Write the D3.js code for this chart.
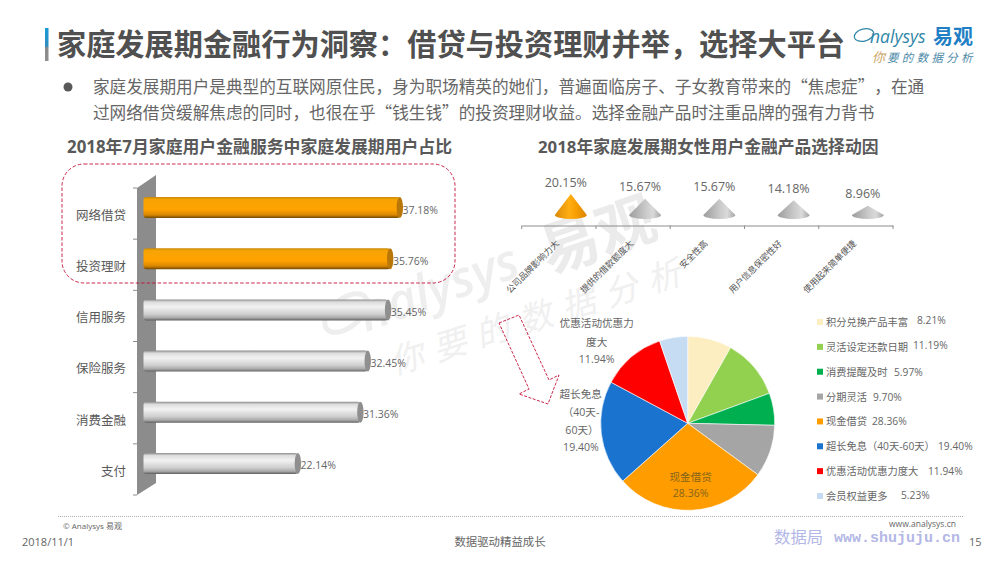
<!DOCTYPE html>
<html>
<head>
<meta charset="utf-8">
<script src="https://cdn.jsdelivr.net/npm/d3@7"></script>
<style>
  html, body { margin: 0; padding: 0; background: #fff; }
  svg { display: block; }
  text { font-family: "Open Sans", "Noto Sans CJK SC", sans-serif; }
  text.cjk { font-family: "Noto Sans CJK SC", sans-serif; }
  text.body-line { text-spacing-trim: space-all; font-kerning: none; }
</style>
</head>
<body>
<svg id="chart" width="1000" height="563"></svg>
<script>
// данные
const barCategories = ["网络借贷", "投资理财", "信用服务", "保险服务", "消费金融", "支付"];
const barValues = [37.18, 35.76, 35.45, 32.45, 31.36, 22.14];
const barHighlighted = ["网络借贷", "投资理财"];

const coneCategories = ["公司品牌影响力大", "提供的借款额度大", "安全性高", "用户信息保密性好", "使用起来简单便捷"];
const coneValues = [20.15, 15.67, 15.67, 14.18, 8.96];

const pieCategories = ["积分兑换产品丰富", "灵活设定还款日期", "消费提醒及时", "分期灵活", "现金借贷", "超长免息（40天-60天）", "优惠活动优惠力度大", "会员权益更多"];
const pieValues = [8.21, 11.19, 5.97, 9.70, 28.36, 19.40, 11.94, 5.23];
const pieColors = ["#fdeec2", "#92d050", "#00b050", "#a5a5a5", "#ff9c00", "#1a73cf", "#ff0000", "#c6dcf3"];

const legendPctX = [917, 913, 894, 873, 872, 938, 928, 901];
const legendPctDy = [-2, -2, 0, 0, 0, 0, 0, -1];

const bodyLines = [
    "家庭发展期用户是典型的互联网原住民，身为职场精英的她们，普遍面临房子、子女教育带来的“焦虑症”，在通",
    "过网络借贷缓解焦虑的同时，也很在乎“钱生钱”的投资理财收益。选择金融产品时注重品牌的强有力背书"
];

const grey = "#595959";
const svg = d3.select("#chart");
const defs = svg.append("defs");

function addGradient(id, stops, horizontal) {
    const g = defs.append("linearGradient").attr("id", id)
        .attr("x1", 0).attr("y1", 0)
        .attr("x2", horizontal ? 1 : 0).attr("y2", horizontal ? 0 : 1);
    stops.forEach(s => g.append("stop").attr("offset", s[0]).attr("stop-color", s[1]));
}
addGradient("barOrange", [[0, "#c98a08"], [0.12, "#f7a404"], [0.6, "#ffa200"], [0.85, "#d98600"], [1, "#6e4700"]]);
addGradient("barGrey", [[0, "#8a8a8a"], [0.12, "#dcdcdc"], [0.35, "#f2f2f2"], [0.7, "#cfcfcf"], [0.88, "#a8a8a8"], [1, "#5f5f5f"]]);
addGradient("coneOrange", [[0, "#d98a08"], [0.45, "#ffae12"], [0.7, "#f59c00"], [1, "#d98400"]], true);
addGradient("coneGrey", [[0, "#9c9c9c"], [0.5, "#c8c8c8"], [0.75, "#dadada"], [1, "#a4a4a4"]], true);
addGradient("titleBar", [[0, "#1a9ad6"], [0.55, "#2f8dc0"], [0.6, "#8a8a8a"], [1, "#8f8f8f"]]);

// водяной знак
svg.append("ellipse").attr("cx", 346).attr("cy", 313).attr("rx", 25).attr("ry", 14)
    .attr("transform", "rotate(-40 346 313)")
    .attr("fill", "none").attr("stroke", "#eeeeee").attr("stroke-width", 5);
svg.append("text").attr("transform", "translate(366,332) rotate(-20)")
    .attr("font-size", 50).attr("font-style", "italic").attr("font-weight", 600).attr("fill", "#eeeeee").text("nalysys");
svg.append("text").attr("class", "cjk").attr("transform", "translate(549,274) rotate(-19)")
    .attr("font-size", 59).attr("font-weight", 700).attr("fill", "#ebebeb").text("易观");
svg.append("text").attr("class", "cjk").attr("transform", "translate(394,375) rotate(-17.6)")
    .attr("font-size", 34).attr("font-style", "italic").attr("letter-spacing", 11).attr("fill", "#f0f0f0")
    .text("你要的数据分析");

// заголовок
svg.append("rect").attr("x", 45).attr("y", 28).attr("width", 3.5).attr("height", 33).attr("fill", "url(#titleBar)");
svg.append("text").attr("class", "cjk").attr("x", 57).attr("y", 55).attr("font-size", 29.2).attr("font-weight", 700).attr("fill", "#505050")
    .text("家庭发展期金融行为洞察：借贷与投资理财并举，选择大平台");

// логотип
svg.append("ellipse").attr("cx", 864).attr("cy", 35).attr("rx", 10).attr("ry", 6)
    .attr("fill", "none").attr("stroke", "#2f86a8").attr("stroke-width", 1.2)
    .attr("transform", "rotate(-15 864 35)");
svg.append("text").attr("x", 870).attr("y", 43).attr("font-size", 17.5).attr("font-style", "italic").attr("fill", "#2f86a8").text("nalysys");
svg.append("text").attr("class", "cjk").attr("x", 933).attr("y", 43.5).attr("font-size", 20).attr("font-weight", 700).attr("fill", "#1f7fc4").text("易观");
svg.append("text").attr("class", "cjk").attr("x", 872).attr("y", 62).attr("font-size", 13).attr("font-style", "italic").attr("fill", "#c9a25e").text("你");
svg.append("text").attr("class", "cjk").attr("x", 887).attr("y", 62).attr("font-size", 11.5).attr("font-style", "italic").attr("letter-spacing", 3.3).attr("fill", "#4d8aa8").text("要的数据分析");

// текст
svg.append("circle").attr("cx", 68).attr("cy", 87).attr("r", 4.5).attr("fill", grey);
svg.selectAll(".body-line").data(bodyLines).enter().append("text")
    .attr("class", "body-line cjk")
    .attr("x", 93).attr("y", (d, i) => 93 + i * 26)
    .attr("font-size", 16.64).attr("fill", "#666").text(d => d);

svg.append("text").attr("x", 67).attr("y", 153).attr("font-size", 16.85).attr("font-weight", 700).attr("fill", grey)
    .text("2018年7月家庭用户金融服务中家庭发展期用户占比");
svg.append("text").attr("x", 538).attr("y", 153).attr("font-size", 16.8).attr("font-weight", 700).attr("fill", grey)
    .text("2018年家庭发展期女性用户金融产品选择动因");

// столбцы
const barX = d3.scaleLinear().domain([0, 37.18]).range([151, 403]);
const barY = d3.scaleBand().domain(barCategories).range([188, 495]);
const barStart = 143.5, barH = 21, barLift = 6;

svg.append("polygon").attr("points", "137,188 156,175 156,483 137,495").attr("fill", "#8c8c8c");
barCategories.concat([null]).forEach((c, i) => {
    const y = 188 + i * barY.step();
    svg.append("line").attr("x1", 133).attr("x2", 137).attr("y1", y).attr("y2", y).attr("stroke", "#8c8c8c");
});

const yAxis = svg.append("g").attr("transform", "translate(127,0)").call(d3.axisLeft(barY).tickSize(0).tickPadding(1));
yAxis.select(".domain").remove();
yAxis.selectAll("text").attr("font-size", 12.5).attr("fill", grey)
    .style("font-family", '"Noto Sans CJK SC", sans-serif').attr("dy", "0.5em");

const isHot = d => barHighlighted.includes(d);
const bars = svg.selectAll(".bar").data(barCategories).enter().append("g").attr("class", "bar")
    .attr("transform", d => `translate(0,${barY(d) + barY.bandwidth() / 2 - barLift - barH / 2})`);
bars.append("rect")
    .attr("x", barStart).attr("y", 0).attr("rx", 3).attr("ry", 3)
    .attr("width", (d, i) => barX(barValues[i]) - barStart - 3).attr("height", barH)
    .attr("fill", d => isHot(d) ? "url(#barOrange)" : "url(#barGrey)");
bars.append("ellipse")
    .attr("cx", (d, i) => barX(barValues[i]) - 3.2).attr("cy", barH / 2)
    .attr("rx", 3.2).attr("ry", barH / 2)
    .attr("fill", d => isHot(d) ? "#b9770a" : "#8f8f8f");
bars.append("text")
    .attr("x", (d, i) => barX(barValues[i]) - 0.5).attr("y", barH / 2 + 6)
    .attr("font-size", 10.5).attr("fill", "#666")
    .text((d, i) => barValues[i].toFixed(2) + "%");

// рамка и стрелка
svg.append("rect").attr("x", 62).attr("y", 164).attr("width", 393).attr("height", 119).attr("rx", 22)
    .attr("fill", "none").attr("stroke", "#c4103a").attr("stroke-width", 0.9).attr("stroke-dasharray", "3.5,2");
svg.append("polygon").attr("points", "499,323 519,315 549,380 559,375 548,404 519,394 529,389")
    .attr("fill", "none").attr("stroke", "#c4103a").attr("stroke-width", 0.9).attr("stroke-dasharray", "3,1.5");

// конусы
const coneX = d3.scaleBand().domain(coneCategories).range([521.7, 893]);
const coneY = d3.scaleLinear().domain([0, 20.15]).range([215, 194]);
const coneShift = 12, coneHalf = 16, coneRy = 4;

const xAxis = svg.append("g").attr("transform", "translate(0,225.5)").call(d3.axisBottom(coneX).tickSize(0));
xAxis.select(".domain").attr("stroke", "#8c8c8c");
xAxis.selectAll("text")
    .style("text-anchor", "end")
    .style("font-family", '"Noto Sans CJK SC", sans-serif')
    .attr("font-size", 8.8).attr("fill", "#555")
    .attr("dx", "0.2em").attr("dy", "0.3em")
    .attr("transform", "translate(-4.4,15.8) rotate(-45)");
coneCategories.concat([null]).forEach((c, i) => {
    const x = 521.7 + i * coneX.step();
    svg.append("line").attr("x1", x).attr("x2", x).attr("y1", 225.5).attr("y2", 229).attr("stroke", "#8c8c8c");
});

const cones = svg.selectAll(".cone").data(coneCategories).enter().append("g").attr("class", "cone");
cones.append("path")
    .attr("d", (d, i) => {
        const cx = coneX(d) + coneX.bandwidth() / 2 + coneShift;
        return `M${cx - coneHalf},${coneY(0)} L${cx},${coneY(coneValues[i])} L${cx + coneHalf},${coneY(0)} A${coneHalf},${coneRy} 0 0 1 ${cx - coneHalf},${coneY(0)} Z`;
    })
    .attr("fill", (d, i) => i === 0 ? "url(#coneOrange)" : "url(#coneGrey)");
cones.append("text")
    .attr("x", d => coneX(d) + coneX.bandwidth() / 2 + coneShift - 5)
    .attr("y", (d, i) => coneY(coneValues[i]) - 7.5)
    .attr("text-anchor", "middle").attr("font-size", 12.5).attr("fill", "#666")
    .text((d, i) => coneValues[i].toFixed(2) + "%");

// круговая диаграмма
const pie = d3.pie().sort(null)(pieValues);
const arc = d3.arc().innerRadius(0).outerRadius(87);
svg.append("g").attr("transform", "translate(687.7,423.3)")
    .selectAll("path").data(pie).enter().append("path")
    .attr("d", arc)
    .attr("fill", (d, i) => pieColors[i])
    .attr("stroke", "#fff").attr("stroke-width", 0.6);

function pieLabel(lines, fill) {
    lines.forEach(l => svg.append("text")
        .attr("x", l[1]).attr("y", l[2] + 4).attr("text-anchor", "middle")
        .attr("font-size", 10.6).attr("fill", fill).text(l[0]));
}
pieLabel([["现金借贷", 690.7, 476.7], [pieValues[4].toFixed(2) + "%", 690.7, 493]], "#86641c");
pieLabel([["优惠活动优惠力", 596.7, 323], ["度大", 596.7, 341.7], [pieValues[6].toFixed(2) + "%", 596.7, 359]], "#666");
pieLabel([["超长免息", 580.7, 394], ["（40天-", 581, 412], ["60天）", 582, 430], [pieValues[5].toFixed(2) + "%", 581, 447]], "#666");

// легенда
const legendY = d3.scalePoint().domain(pieCategories).range([322, 496]);
const legend = svg.selectAll(".legend").data(pieCategories).enter().append("g").attr("class", "legend")
    .attr("transform", d => `translate(0,${legendY(d)})`);
legend.append("rect").attr("x", 817).attr("y", -3).attr("width", 6).attr("height", 6)
    .attr("fill", (d, i) => pieColors[i]);
legend.append("text").attr("x", 826).attr("y", 4).attr("font-size", 10.25).attr("fill", "#666").text(d => d);
legend.append("text").attr("x", (d, i) => legendPctX[i]).attr("y", (d, i) => 4 + legendPctDy[i])
    .attr("font-size", 10.25).attr("fill", "#666")
    .text((d, i) => pieValues[i].toFixed(2) + "%");

// подвал
svg.append("line").attr("x1", 58).attr("x2", 964).attr("y1", 516.5).attr("y2", 516.5)
    .attr("stroke", "#999").attr("stroke-width", 0.8).attr("stroke-dasharray", "1,1");
svg.append("text").attr("x", 63).attr("y", 529).attr("font-size", 8).attr("fill", "#666").text("© Analysys 易观");
svg.append("text").attr("x", 889).attr("y", 527).attr("font-size", 8.5).attr("fill", "#666").text("www.analysys.cn");
svg.append("text").attr("x", 22).attr("y", 546).attr("font-size", 11).attr("fill", "#666").text("2018/11/1");
svg.append("text").attr("x", 500).attr("y", 546).attr("text-anchor", "middle").attr("font-size", 11.4).attr("fill", "#666").text("数据驱动精益成长");
svg.append("text").attr("class", "cjk").attr("x", 774).attr("y", 543).attr("font-size", 16.4).attr("fill", "#b3b7e6").text("数据局");
svg.append("text").attr("x", 834).attr("y", 542).attr("font-size", 15).attr("fill", "#b3b7e6").attr("font-weight", 700)
    .style("font-family", '"Liberation Mono", monospace')
    .text("www.shujuju.cn");
svg.append("text").attr("x", 969).attr("y", 546).attr("font-size", 11).attr("fill", "#666").text("15");
</script>
</body>
</html>
